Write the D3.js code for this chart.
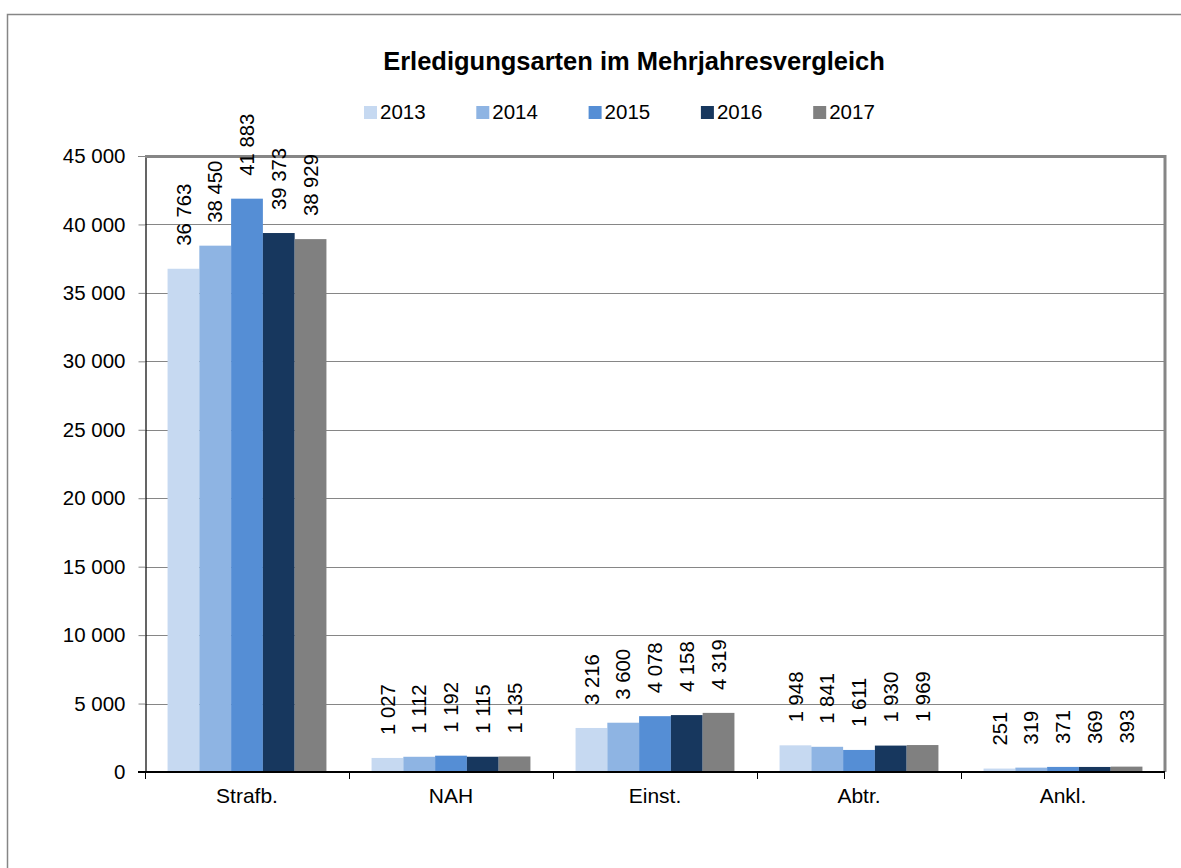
<!DOCTYPE html>
<html>
<head>
<meta charset="utf-8">
<script src="https://cdn.jsdelivr.net/npm/d3@7"></script>
<style>
  body { margin: 0; background: #fff; }
  text { font-family: "Liberation Sans", Arial, sans-serif; fill: #000; }
</style>
</head>
<body>
<script>
// data
const categories = ["Strafb.", "NAH", "Einst.", "Abtr.", "Ankl."];
const years = ["2013", "2014", "2015", "2016", "2017"];
const values2013 = [36763, 1027, 3216, 1948, 251];
const values2014 = [38450, 1112, 3600, 1841, 319];
const values2015 = [41883, 1192, 4078, 1611, 371];
const values2016 = [39373, 1115, 4158, 1930, 369];
const values2017 = [38929, 1135, 4319, 1969, 393];
const yTicks = [0, 5000, 10000, 15000, 20000, 25000, 30000, 35000, 40000, 45000];
const colors = ["#c6d9f1", "#8eb4e3", "#558ed5", "#17375e", "#808080"];

const seriesValues = [values2013, values2014, values2015, values2016, values2017];

const W = 1181, H = 868;
const plot = { left: 145, right: 1165, top: 156, bottom: 772 };

const svg = d3.select("body").append("svg")
    .attr("width", W)
    .attr("height", H);

// outer chart border
svg.append("path")
    .attr("d", "M7.5,868 V14.5 H1181")
    .attr("fill", "none")
    .attr("stroke", "#868686")
    .attr("stroke-width", 1.5);

const x = d3.scaleBand()
    .domain(categories)
    .range([plot.left, plot.right])
    .paddingInner(0)
    .paddingOuter(0);

const xInner = d3.scaleBand()
    .domain(years)
    .range([0, x.bandwidth()])
    .paddingOuter(0.71);

const y = d3.scaleLinear()
    .domain([0, 45000])
    .range([plot.bottom, plot.top]);

const fmt = v => d3.format(",")(v).replace(/,/g, " ");

// grid lines
svg.append("g")
    .selectAll("line")
    .data(yTicks.slice(1, -1))
    .enter().append("line")
    .attr("x1", plot.left)
    .attr("x2", plot.right)
    .attr("y1", d => Math.round(y(d)) + 0.5)
    .attr("y2", d => Math.round(y(d)) + 0.5)
    .attr("stroke", "#868686")
    .attr("stroke-width", 1);

// y axis
const yAxis = svg.append("g")
    .attr("transform", "translate(" + (plot.left + 0.5) + ",0)")
    .call(d3.axisLeft(y).tickValues(yTicks).tickFormat(fmt).tickSize(7).tickPadding(13));
yAxis.select(".domain").attr("stroke", "#000").attr("stroke-width", 1.2);
yAxis.selectAll(".tick line").attr("stroke", "#868686");
yAxis.selectAll("text")
    .style("font-family", "'Liberation Sans', Arial, sans-serif")
    .style("font-size", "20.5px")
    .attr("fill", "#000");

// plot area top/right border
svg.append("path")
    .attr("d", "M" + plot.left + "," + (plot.top + 0.5) + " H" + plot.right + " V" + plot.bottom)
    .attr("fill", "none")
    .attr("stroke", "#868686")
    .attr("stroke-width", 3);

// bars
const groups = svg.append("g")
    .selectAll("g")
    .data(categories)
    .enter().append("g")
    .attr("transform", d => "translate(" + x(d) + ",0)");

groups.selectAll("rect")
    .data((c, i) => years.map((yr, j) => ({ yr: yr, v: seriesValues[j][i], j: j })))
    .enter().append("rect")
    .attr("x", d => xInner(d.yr))
    .attr("width", xInner.bandwidth())
    .attr("y", d => y(d.v))
    .attr("height", d => plot.bottom - y(d.v))
    .attr("fill", d => colors[d.j]);

// value labels
groups.selectAll("text")
    .data((c, i) => years.map((yr, j) => ({ yr: yr, v: seriesValues[j][i], j: j })))
    .enter().append("text")
    .attr("transform", d => "translate(" + (xInner(d.yr) + xInner.bandwidth() / 2) + "," + (y(d.v) - 23) + ") rotate(-90)")
    .attr("dy", "0.35em")
    .attr("text-anchor", "start")
    .style("font-size", "20.3px")
    .text(d => fmt(d.v));

// x axis
const xAxis = svg.append("g")
    .attr("transform", "translate(0," + plot.bottom + ")");
xAxis.append("line")
    .attr("x1", plot.left - 7)
    .attr("x2", plot.right)
    .attr("stroke", "#000")
    .attr("stroke-width", 2);
xAxis.selectAll(".tk")
    .data(categories.concat(["end"]))
    .enter().append("line")
    .attr("class", "tk")
    .attr("x1", (d, i) => i < categories.length ? x(d) + 0.5 : plot.right - 0.5)
    .attr("x2", (d, i) => i < categories.length ? x(d) + 0.5 : plot.right - 0.5)
    .attr("y1", 0)
    .attr("y2", 7)
    .attr("stroke", "#000")
    .attr("stroke-width", 1);
xAxis.selectAll(".lbl")
    .data(categories)
    .enter().append("text")
    .attr("class", "lbl")
    .attr("x", d => x(d) + x.bandwidth() / 2)
    .attr("y", 31)
    .attr("text-anchor", "middle")
    .style("font-size", "21px")
    .text(d => d);

// title
svg.append("text")
    .attr("x", 634)
    .attr("y", 70)
    .attr("text-anchor", "middle")
    .style("font-size", "25.5px")
    .style("font-weight", "bold")
    .text("Erledigungsarten im Mehrjahresvergleich");

// legend
const legend = svg.append("g")
    .selectAll("g")
    .data(years)
    .enter().append("g")
    .attr("transform", (d, i) => "translate(" + (364 + i * 112.3) + ",0)");
legend.append("rect")
    .attr("y", 106)
    .attr("width", 13)
    .attr("height", 13)
    .attr("fill", (d, i) => colors[i]);
legend.append("text")
    .attr("x", 16)
    .attr("y", 118.5)
    .style("font-size", "20.5px")
    .text(d => d);
</script>
</body>
</html>
